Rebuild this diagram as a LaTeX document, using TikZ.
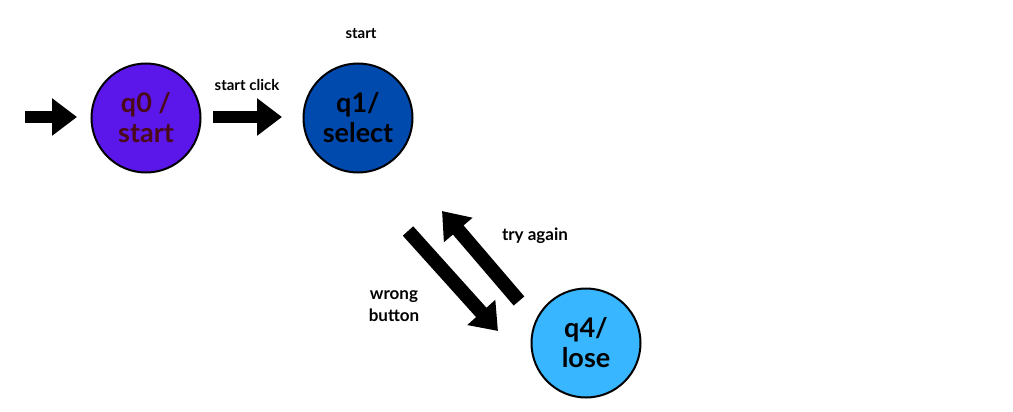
\documentclass[tikz,border=0pt]{standalone}
\usepackage{fontspec}
\setmainfont{Lato}
\usetikzlibrary{arrows.meta}
\definecolor{qzero}{HTML}{5B17E9}
\definecolor{qone}{HTML}{004AAD}
\definecolor{qfour}{HTML}{38B6FF}
\definecolor{maroon}{HTML}{4A0A1A}
\begin{document}
\begin{tikzpicture}[x=1pt, y=-1pt, line width=2pt,
        state/.style={circle, draw, minimum size=109pt, inner sep=0pt, align=center, font=\fontsize{27}{30}\selectfont\bfseries},
        fat arrow/.style={line width=12pt, -{Triangle[length=25pt, width=36pt]}},
        lbl/.style={font=\fontsize{17}{22}\selectfont\bfseries, align=center}]
    \useasboundingbox (0,0) rectangle (1013,412);
    \node[state, fill=qzero, text=maroon] (q0) at (146,118) {q0 /\\start};
    \node[state, fill=qone] (q1) at (358,118) {q1/\\select};
    \node[state, fill=qfour] (q4) at (586,343) {q4/\\lose};
    \node[lbl, font=\fontsize{15}{18}\selectfont\bfseries] (startlbl) at (361,34) {start};
    \node[lbl, font=\fontsize{15}{18}\selectfont\bfseries] (click) at (247,85) {start click};
    \node[lbl] (again) at (535,236) {try again};
    \node[lbl] (wrong) at (394,306) {wrong\\button};
    \coordinate (in0) at (25,117);
    \coordinate (in1) at (77,117);
    \coordinate (c0) at (213,117);
    \coordinate (c1) at (282,117);
    \coordinate (w0) at (408,231);
    \coordinate (w1) at (498,331);
    \coordinate (t0) at (519,301);
    \coordinate (t1) at (442,211);
    \draw[fat arrow] (in0) -- (in1);
    \draw[fat arrow] (c0) -- (c1);
    \draw[fat arrow, line width=14pt] (w0) -- (w1);
    \draw[fat arrow, line width=14pt] (t0) -- (t1);
\end{tikzpicture}
\end{document}
